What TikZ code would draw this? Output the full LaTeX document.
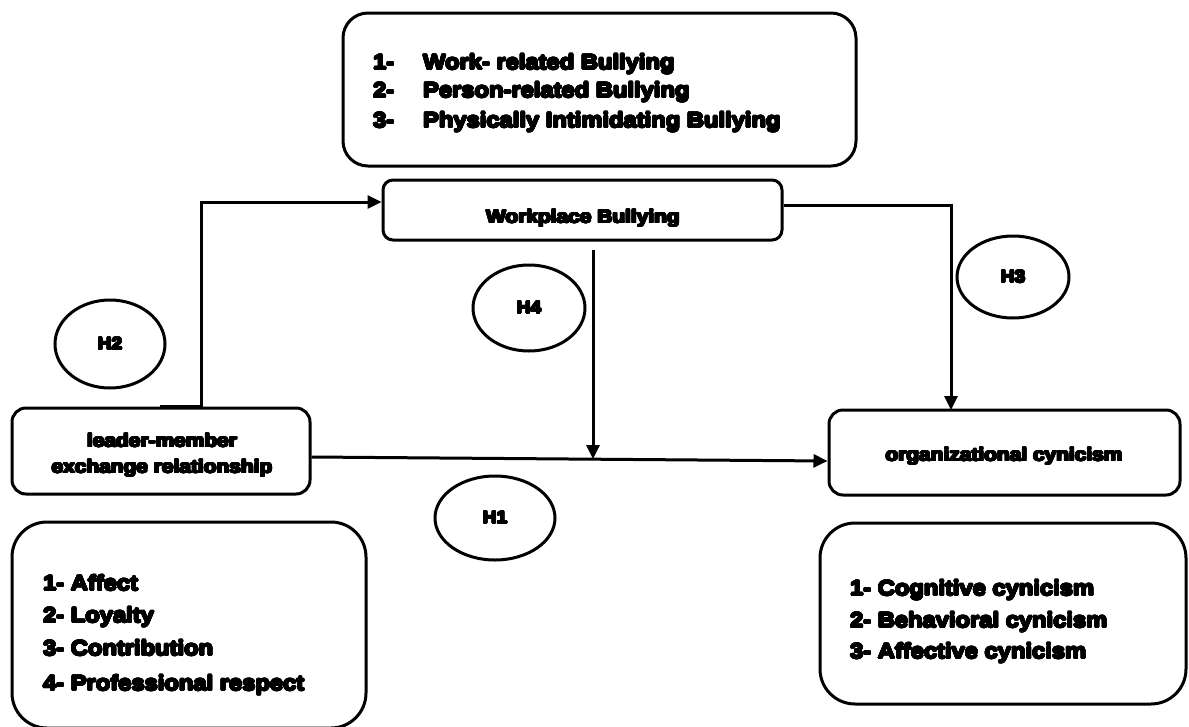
\documentclass[tikz,border=0pt]{standalone}
\usepackage{fontspec}
\setmainfont{Liberation Sans}[BoldFeatures={FakeStretch=1.13}]
\usepackage{contour}
\contourlength{0.8pt}
\contournumber{20}
\newcommand{\hv}[1]{\contour{black}{#1}}
\usetikzlibrary{arrows.meta,shapes.geometric,calc}
\begin{document}
\begin{tikzpicture}[x=1pt,y=-1pt,
  lw/.style={line width=3pt},
  arr/.style={lw,-{Triangle[length=14pt,width=13pt]}},
  rbox/.style={draw,lw,rectangle,inner sep=0pt},
  hyp/.style={draw,lw,ellipse,inner sep=0pt,font=\bfseries\fontsize{17}{20}\selectfont},
  lbl/.style={inner sep=0pt,font=\bfseries\fontsize{18.5}{22}\selectfont},
  lst/.style={inner sep=0pt,anchor=base west,font=\bfseries\fontsize{21}{25}\selectfont}
  ]
\useasboundingbox (0,0) rectangle (1189,726);
% boxes
\node[rbox,rounded corners=25pt,minimum width=513pt,minimum height=153pt] (top) at (599.5,89.5) {};
\node[rbox,rounded corners=10pt,minimum width=399pt,minimum height=60pt] (wb) at (582.5,210) {};
\node[rbox,rounded corners=14pt,minimum width=298pt,minimum height=86pt] (lmx) at (161,451) {};
\node[rbox,rounded corners=14pt,minimum width=351pt,minimum height=85pt] (org) at (1004.5,452.5) {};
\node[rbox,rounded corners=35pt,minimum width=354pt,minimum height=206pt] (ll) at (189,625) {};
\node[rbox,rounded corners=35pt,minimum width=366pt,minimum height=181pt] (rl) at (1003,613.5) {};
% box texts
\node[lbl,anchor=base] (wbt) at (583,223) {\hv{Workplace Bullying}};
\node[lbl,anchor=base] (lmt1) at (162,447) {\hv{leader-member}};
\node[lbl,anchor=base] (lmt2) at (162,473) {\hv{exchange relationship}};
\node[lbl,anchor=base] (orgt) at (1004,461) {\hv{organizational cynicism}};
% top list
\node[lst] (tn1) at (373,69.5) {\hv{1-}};
\node[lst] (tn2) at (373,97.5) {\hv{2-}};
\node[lst] (tn3) at (373,127.5) {\hv{3-}};
\node[lst] (tt1) at (423,69.5) {\hv{Work- related Bullying}};
\node[lst] (tt2) at (423,97.5) {\hv{Person-related Bullying}};
\node[lst] (tt3) at (423,127.5) {\hv{Physically Intimidating Bullying}};
% left list
\node[lst] (l1) at (43,590.5) {\hv{1- Affect}};
\node[lst] (l2) at (43,622.5) {\hv{2- Loyalty}};
\node[lst] (l3) at (43,655.5) {\hv{3- Contribution}};
\node[lst] (l4) at (43,690.5) {\hv{4- Professional respect}};
% right list
\node[lst] (r1) at (850,595.5) {\hv{1- Cognitive cynicism}};
\node[lst] (r2) at (850,627.5) {\hv{2- Behavioral cynicism}};
\node[lst] (r3) at (850,658.5) {\hv{3- Affective cynicism}};
% hypotheses
\node[hyp,minimum width=110pt,minimum height=88pt] (h2) at (110,344) {\hv{H2}};
\node[hyp,minimum width=112pt,minimum height=86pt] (h4) at (529,308) {\hv{H4}};
\node[hyp,minimum width=112pt,minimum height=82pt] (h3) at (1013,277) {\hv{H3}};
\node[hyp,minimum width=120pt,minimum height=84pt] (h1) at (495,518) {\hv{H1}};
% connectors
\coordinate (h2s) at (160,406);
\coordinate (h4s) at (593,250);
\coordinate (h4e) at (593,459);
\draw[arr] (h2s) -- (201,406) -- (201,202) -- (wb.west |- 0,202);
\draw[arr] (wb.east |- 0,205) -- (951,205) -- (951,410);
\draw[arr] (lmx.east |- 0,457) -- (org.west |- 0,461);
\draw[arr] (h4s) -- (h4e);
\end{tikzpicture}
\end{document}
